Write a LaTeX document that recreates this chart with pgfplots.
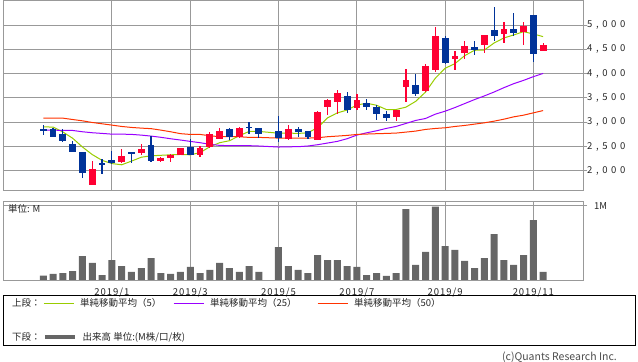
\documentclass[border=0pt]{standalone}
\usepackage{pgfplots}
\pgfplotsset{compat=1.18}
\usepackage{pgfplotstable}
\usepackage{fontspec}
\setmainfont{Noto Sans CJK JP}
\newfontfamily\ynum[LetterSpace=38]{Noto Sans CJK JP}
\newfontfamily\xnum[LetterSpace=10]{Noto Sans CJK JP}
\newcommand\fs{\fontsize{9.5bp}{11bp}\selectfont}

\definecolor{cred}{RGB}{255,0,51}
\definecolor{cblue}{RGB}{0,51,153}
\definecolor{ma5}{RGB}{153,204,0}
\definecolor{ma25}{RGB}{153,0,255}
\definecolor{ma50}{RGB}{255,51,0}
\definecolor{gridgray}{RGB}{153,153,153}
\definecolor{volgray}{RGB}{102,102,102}

\pgfplotstableread{
s o h l c
0 2855 2940 2740 2835
1 2865 2880 2700 2705
2 2755 2870 2595 2620
3 2562 2613 2395 2395
4 2388 2388 1845 1948
6 2142 2238 1925 2132
7 2224 2415 2140 2165
9 2380 2390 2163 2368
11 2525 2715 2183 2208
15 2495 2650 2320 2333
19 2859 2879 2634 2700
21 2898 2995 2763 2886
22 2879 2879 2668 2756
24 2818 3128 2600 2681
26 2859 2906 2702 2797
27 2818 2818 2647 2702
31 3547 3616 3193 3247
33 3397 3472 3247 3316
34 3316 3363 3056 3179
35 3179 3227 3029 3097
38 3772 3984 3541 3575
41 4741 4782 4202 4216
44 4550 4679 4393 4489
46 4905 5375 4679 4768
48 4925 5239 4768 4836
50 5211 5211 4229 4400
}\downc

\pgfplotstableread{
s o h l c
5 1700 2205 1700 2040
8 2183 2449 2156 2313
10 2372 2550 2320 2445
12 2204 2290 2183 2265
13 2272 2347 2183 2327
14 2320 2470 2320 2470
16 2333 2518 2286 2470
17 2483 2790 2470 2756
18 2658 2879 2647 2818
20 2702 2906 2681 2879
25 2647 2940 2627 2859
28 2634 3227 2634 3206
29 3316 3479 3159 3452
30 3418 3656 3179 3609
32 3295 3588 3247 3452
36 3111 3247 3029 3247
37 3725 4086 3418 3875
39 3643 4188 3622 4148
40 4066 4952 4038 4775
42 4291 4475 4079 4366
43 4427 4673 4311 4570
45 4584 4802 4420 4802
47 4823 5068 4625 4925
49 4850 5068 4598 4986
51 4475 4639 4461 4598
}\upc

\pgfplotstableread{
s v
0 2905
1 2900
2 2800
3 2670
4 2490
5 2335
6 2215
7 2150
8 2125
9 2200
10 2280
11 2310
12 2320
13 2330
14 2337
15 2330
16 2374
17 2497
18 2579
19 2620
20 2722
21 2811
22 2811
24 2775
25 2777
26 2770
27 2783
28 2890
29 3090
30 3192
31 3250
32 3355
33 3390
34 3350
35 3262
36 3262
37 3310
38 3430
39 3620
40 3905
41 4110
42 4205
43 4370
44 4480
45 4485
46 4630
47 4734
48 4795
49 4863
50 4816
51 4761
}\mafive

\pgfplotstableread{
s v
0 2838
1 2838
2 2831
3 2831
4 2804
5 2784
6 2770
7 2755
8 2755
9 2750
10 2735
11 2715
12 2690
13 2660
14 2634
15 2606
16 2579
17 2545
18 2524
19 2518
20 2518
21 2518
22 2511
24 2490
25 2495
26 2497
27 2511
28 2538
29 2572
30 2606
31 2661
32 2736
33 2783
34 2824
35 2873
36 2914
37 2975
38 3037
39 3077
40 3166
41 3227
42 3302
43 3384
44 3466
45 3541
46 3622
47 3711
48 3793
49 3861
50 3937
51 4004
}\matwentyfive

\pgfplotstableread{
s v
0 3084
1 3084
2 3084
3 3056
4 3029
5 2995
6 2968
7 2941
8 2913
9 2893
10 2879
11 2868
12 2838
13 2804
14 2765
15 2749
16 2749
17 2722
18 2702
19 2702
20 2702
21 2688
22 2688
24 2674
25 2674
26 2674
27 2674
28 2681
29 2702
30 2715
31 2729
32 2749
33 2757
34 2764
35 2770
36 2777
37 2797
38 2818
39 2852
40 2872
41 2886
42 2913
43 2934
44 2961
45 2988
46 3022
47 3063
48 3111
49 3145
50 3193
51 3240
}\mafifty

\pgfplotstableread{
s v
0 0.058
1 0.081
2 0.094
3 0.121
4 0.323
5 0.229
6 0.067
7 0.269
8 0.188
9 0.108
10 0.161
11 0.296
12 0.094
13 0.081
14 0.108
15 0.175
16 0.094
17 0.135
18 0.229
19 0.161
20 0.108
21 0.188
22 0.108
24 0.444
25 0.188
26 0.135
27 0.094
28 0.336
29 0.269
30 0.269
31 0.188
32 0.175
33 0.067
34 0.094
35 0.054
36 0.094
37 0.955
38 0.202
39 0.377
40 0.987
41 0.457
42 0.404
43 0.256
44 0.161
45 0.296
46 0.619
47 0.269
48 0.202
49 0.336
50 0.807
51 0.108
}\vol

\begin{document}
\begin{tikzpicture}
\useasboundingbox (0,0) rectangle (638bp,362bp);
% ---------------- upper panel ----------------
\begin{axis}[
  at={(3.3bp,171.7bp)}, anchor=south west,
  scale only axis, width=579.7bp, height=189.6bp,
  xmin=-4.08, xmax=55.07, ymin=1600, ymax=5500,
  axis line style={gridgray, line width=0.9bp},
  xtick={7,15,24,32,41,50}, xticklabels={},
  ytick={2000,2500,3000,3500,4000,4500,5000},
  yticklabels={{2,000},{2,500},{3,000},{3,500},{4,000},{4,500},{5,000}},
  ytick pos=right, yticklabel pos=right,
  tick align=outside, major tick length=4bp,
  xtick style={draw=none},
  ytick style={gridgray, line width=0.9bp},
  grid=major, grid style={gridgray, line width=0.9bp},
  yticklabel style={font=\ynum\fs, anchor=west, inner sep=0pt, text=black!85},
  legend columns=-1,
  legend style={at={(axis description cs:0.00466,-0.5944)}, anchor=west,
    draw=none, fill=none, inner sep=0pt, font=\fs, text=black!85,
    nodes={inner sep=0pt},
    /tikz/every odd column/.append style={column sep=6bp}},
  legend image code/.code={\draw[#1] (0bp,0bp) -- (30bp,0bp);},
]
\addlegendimage{empty legend}
\addlegendentry{\makebox[31bp][l]{上段：}}
\addplot[ma5, line width=1bp, mark=none] table[x=s,y=v]{\mafive};
\addlegendentry{\makebox[93bp][l]{単純移動平均（5）}}
\addplot[ma25, line width=1bp, mark=none] table[x=s,y=v]{\matwentyfive};
\addlegendentry{\makebox[107bp][l]{単純移動平均（25）}}
\addplot[ma50, line width=1bp, mark=none] table[x=s,y=v]{\mafifty};
\addlegendentry{単純移動平均（50）}
% wicks and bodies
\addplot[draw=none, mark=none, forget plot,
  error bars/.cd, y dir=both, y explicit, error mark=none,
  error bar style={draw=cblue, line width=1.2bp}]
  table[x=s, y expr={(\thisrow{h}+\thisrow{l})/2}, y error expr={(\thisrow{h}-\thisrow{l})/2}] {\downc};
\addplot[draw=none, mark=none, forget plot,
  error bars/.cd, y dir=both, y explicit, error mark=none,
  error bar style={draw=cblue, line width=6.8bp}]
  table[x=s, y expr={(\thisrow{o}+\thisrow{c})/2}, y error expr={max(abs(\thisrow{o}-\thisrow{c})/2,16)}] {\downc};
\addplot[draw=none, mark=none, forget plot,
  error bars/.cd, y dir=both, y explicit, error mark=none,
  error bar style={draw=cred, line width=1.2bp}]
  table[x=s, y expr={(\thisrow{h}+\thisrow{l})/2}, y error expr={(\thisrow{h}-\thisrow{l})/2}] {\upc};
\addplot[draw=none, mark=none, forget plot,
  error bars/.cd, y dir=both, y explicit, error mark=none,
  error bar style={draw=cred, line width=6.8bp}]
  table[x=s, y expr={(\thisrow{o}+\thisrow{c})/2}, y error expr={max(abs(\thisrow{o}-\thisrow{c})/2,16)}] {\upc};
\end{axis}
% ---------------- volume panel ----------------
\begin{axis}[
  at={(3.3bp,82bp)}, anchor=south west,
  scale only axis, width=579.7bp, height=78.3bp,
  xmin=-4.08, xmax=55.07, ymin=0, ymax=1.054,
  axis line style={gridgray, line width=0.9bp},
  xtick={7,15,24,32,41,50},
  xticklabels={2019/1,2019/3,2019/5,2019/7,2019/9,2019/11},
  ytick={1}, yticklabels={1M},
  ytick pos=right, yticklabel pos=right,
  tick align=outside, major tick length=4bp,
  xtick style={draw=none},
  ytick style={gridgray, line width=0.9bp},
  grid=major, grid style={gridgray, line width=0.9bp},
  xticklabel style={font=\xnum\fs, inner sep=0pt, text=black!85, yshift=-4bp},
  yticklabel style={font=\fs, anchor=west, inner sep=0pt, xshift=7bp, text=black!85},
  legend columns=-1,
  legend style={at={(axis description cs:0.00466,-0.728)}, anchor=west,
    draw=none, fill=none, inner sep=0pt, font=\fs, text=black!85,
    nodes={inner sep=0pt},
    /tikz/every odd column/.append style={column sep=6bp}},
  legend image code/.code={\draw[#1] (0bp,0bp) -- (30bp,0bp);},
]
\addplot[ybar, bar width=7bp, fill=volgray, draw=none, forget plot] table[x=s,y=v]{\vol};
\addlegendimage{empty legend}
\addlegendentry{\makebox[31bp][l]{下段：}}
\addlegendimage{volgray, line width=3.5bp}
\addlegendentry{出来高 単位:(M株/口/枚)}
\node[anchor=west, font=\fs, inner sep=0pt, text=black!85] at (axis description cs:0.008,0.907) {単位: M};
\end{axis}
\draw[black, line width=1bp] (3.3bp,16bp) rectangle (635.3bp,66bp);
\node[anchor=east, inner sep=0pt, font=\fontsize{10.5bp}{12bp}\selectfont, text=black!70] at (617bp,4.5bp) {(c)Quants Research Inc.};
\end{tikzpicture}
\end{document}
